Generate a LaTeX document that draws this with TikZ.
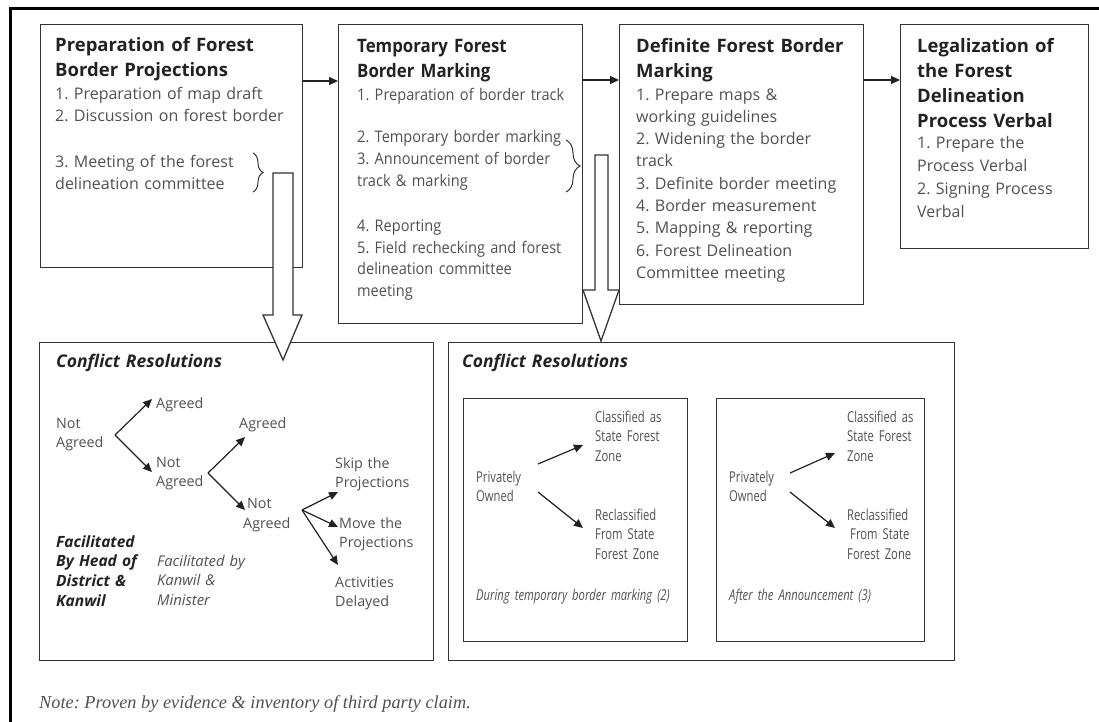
\documentclass[tikz,border=0pt]{standalone}
\usepackage{fontspec}
\setmainfont{Open Sans}
\newfontfamily\condfont[FakeStretch=0.75]{Open Sans}
\newfontfamily\semifont[FakeStretch=0.91]{Open Sans}
\newfontfamily\notefont{Liberation Serif}
\usetikzlibrary{arrows.meta,decorations.pathreplacing}
\definecolor{ttlcol}{HTML}{222222}
\definecolor{txtcol}{HTML}{505050}
\definecolor{lncol}{HTML}{333333}
\frenchspacing
\begin{document}
\frenchspacing
\begin{tikzpicture}[x=1pt,y=-1pt,
  box/.style={draw=lncol, line width=1.3pt, inner sep=0pt, anchor=north west},
  ttl/.style={anchor=base west, inner sep=0pt, text width=300pt, align=left,
    font=\frenchspacing\fontsize{18.5}{25.5}\selectfont\bfseries, text=ttlcol},
  lst/.style={anchor=base west, inner sep=0pt, text width=300pt, align=left,
    font=\frenchspacing\fontsize{16}{22}\selectfont, text=txtcol},
  sm/.style={anchor=base west, inner sep=0pt, text width=200pt, align=left,
    font=\fontsize{14.3}{19.5}\selectfont, text=txtcol},
  cnd/.style={anchor=base west, inner sep=0pt, text width=260pt, align=left,
    font=\condfont\fontsize{15}{19.5}\selectfont, text=txtcol},
  hd/.style={anchor=base west, inner sep=0pt, text width=250pt, align=left,
    font=\fontsize{17.5}{20}\selectfont\bfseries\itshape, text=ttlcol},
  arr/.style={draw=ttlcol, line width=1.2pt, -{Triangle[length=9pt,width=8pt]}},
  hollow/.style={draw=lncol, line width=1.3pt, fill=white, line join=miter},
  brc/.style={draw=lncol, line width=1pt, decorate}
]
\useasboundingbox (0,0) rectangle (1099,721);
% outer frame
\draw[line width=3pt, black] (10,730) -- (10,8) -- (1110,8);

% top boxes
\node[box, minimum width=262pt, minimum height=243pt] (B1) at (40,24) {};
\node[box, minimum width=244pt, minimum height=299pt] (B2) at (338,24) {};
\node[box, minimum width=244pt, minimum height=280pt] (B3) at (619,24) {};
\node[box, minimum width=188pt, minimum height=224pt] (B4) at (900,24) {};

% bottom boxes
\node[box, minimum width=394pt, minimum height=318pt] (C1) at (39,342) {};
\node[box, minimum width=506pt, minimum height=318pt] (C2) at (448,342) {};
\node[box, minimum width=224pt, minimum height=243pt] (D1) at (463,398) {};
\node[box, minimum width=208pt, minimum height=243pt] (D2) at (716,398) {};

% connectors between top boxes
\draw[arr] ([yshift=-57pt]B1.north east) -- ([yshift=-57pt]B2.north west);
\draw[arr] ([yshift=-56pt]B2.north east) -- ([yshift=-56pt]B3.north west);
\draw[arr] ([yshift=-56pt]B3.north east) -- ([yshift=-56pt]B4.north west);

% box texts
\node[ttl] (t1) at (55,51) {Preparation of Forest\\Border Projections};
\node[lst] (l1) at (55,99) {1. Preparation of map draft\\2. Discussion on forest border\\[24pt]3. Meeting of the forest\\delineation committee};

\node[ttl, font=\semifont\frenchspacing\fontsize{18.5}{25.5}\selectfont\bfseries] (t2) at (357,52) {Temporary Forest\\Border Marking};
\node[lst, font=\semifont\frenchspacing\fontsize{16}{21.8}\selectfont] (l2) at (357,100) {1. Preparation of border track\\[21pt]2. Temporary border marking\\3. Announcement of border\\track \& marking\\[23pt]4. Reporting\\5. Field rechecking and forest\\delineation committee\\meeting};

\node[ttl] (t3) at (636,52) {Definite Forest Border\\Marking};
\node[lst, font=\frenchspacing\fontsize{16}{22.3}\selectfont] (l3) at (636,100) {1. Prepare maps \&\\working guidelines\\2. Widening the border\\track\\3. Definite border meeting\\4. Border measurement\\5. Mapping \& reporting\\6. Forest Delineation\\Committee meeting};

\node[ttl, font=\frenchspacing\fontsize{18.5}{25}\selectfont\bfseries] (t4) at (917,52) {Legalization of\\the Forest\\Delineation\\Process Verbal};
\node[lst, font=\frenchspacing\fontsize{16}{23}\selectfont] (l4) at (917,148) {1. Prepare the\\Process Verbal\\2. Signing Process\\Verbal};

% braces
\draw[brc, decoration={brace, amplitude=10pt}] (253,153) -- (253,192);
\draw[brc, decoration={brace, amplitude=14pt}] (566,140) -- (566,192);

% hollow arrows
\draw[hollow] (273,173) -- (273,315) -- (263,315) -- (283,360) -- (302,315) -- (293,315) -- (293,173) -- cycle;
\draw[hollow] (595,155) -- (595,290) -- (583,290) -- (601,341) -- (619,290) -- (608,290) -- (608,155) -- cycle;

% left conflict resolutions
\node[hd] (h1) at (56,367) {Conflict Resolutions};
\node[sm] (n1) at (56,428) {Not\\Agreed};
\node[sm] (a1) at (156,408) {Agreed};
\node[sm] (n2) at (156,467) {Not\\Agreed};
\node[sm] (a2) at (239,428) {Agreed};
\node[sm] (n3) at (247,508) {Not};
\node[sm] (n3b) at (243,528) {Agreed};
\node[sm] (s1) at (335,468) {Skip the\\Projections};
\node[sm] (m1) at (339,528) {Move the\\Projections};
\node[sm] (d1) at (335,587) {Activities\\Delayed};
\node[anchor=base west, inner sep=0pt, text width=200pt, align=left,
    font=\fontsize{15.5}{19.7}\selectfont\bfseries\itshape, text=ttlcol] (f1) at (56,547) {Facilitated\\By Head of\\District \&\\Kanwil};
\node[sm, font=\fontsize{14.8}{19.8}\selectfont\itshape] (f2) at (157,566) {Facilitated by\\Kanwil \&\\Minister};

\coordinate (o1) at (115,435);
\coordinate (o2) at (208,473);
\coordinate (o3) at (302,510);
\draw[arr] (o1) -- (152,399);
\draw[arr] (o1) -- (152,472);
\draw[arr] (o2) -- (245,437);
\draw[arr] (o2) -- (245,510);
\draw[arr] (o3) -- (338,492);
\draw[arr] (o3) -- (338,527);
\draw[arr] (o3) -- (338,565);

% right conflict resolutions
\node[hd] (h2) at (462,367) {Conflict Resolutions};
\node[cnd] (p1) at (476,482) {Privately\\Owned};
\node[cnd] (c1) at (595,422) {Classified as\\State Forest\\Zone};
\node[cnd] (r1) at (595,520) {Reclassified\\From State\\Forest Zone};
\node[cnd, font=\condfont\fontsize{15}{19.5}\selectfont\itshape] (w1) at (476,600) {During temporary border marking (2)};
\draw[arr] (538,464) -- (583,445);
\draw[arr] (538,492) -- (583,528);

\node[cnd] (p2) at (729,482) {Privately\\Owned};
\node[cnd] (c2) at (847,422) {Classified as\\State Forest\\Zone};
\node[cnd] (r2) at (847,520) {Reclassified\\\hspace*{3pt}From State\\Forest Zone};
\node[cnd, font=\condfont\fontsize{15}{19.5}\selectfont\itshape] (w2) at (729,600) {After the Announcement (3)};
\draw[arr] (790,473) -- (835,453);
\draw[arr] (790,492) -- (835,528);

% note
\node[anchor=base west, inner sep=0pt, font=\notefont\fontsize{18.3}{20}\selectfont\itshape, text=txtcol] (note) at (39,708) {Note: Proven by evidence \& inventory of third party claim.};
\end{tikzpicture}
\end{document}
